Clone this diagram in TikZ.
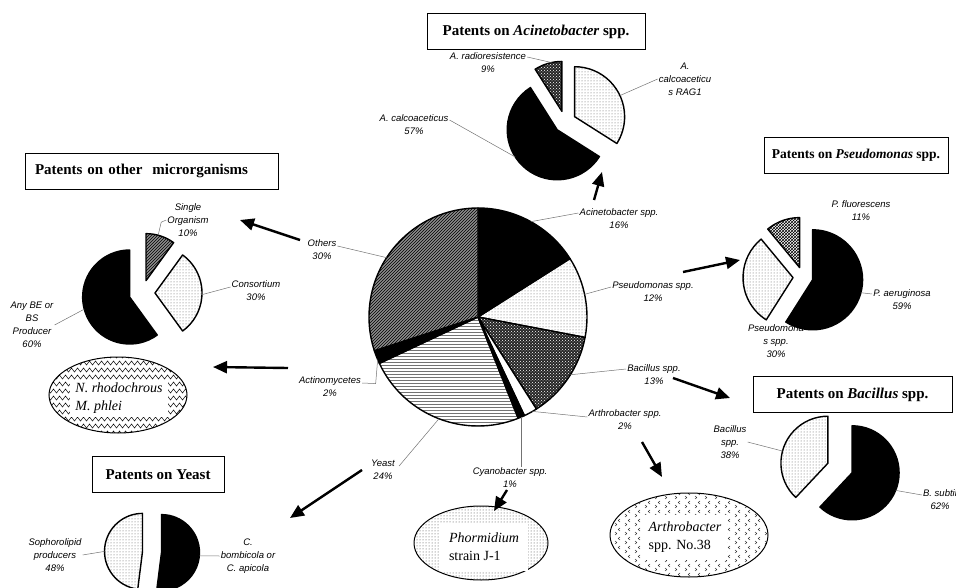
\documentclass[tikz,border=0pt]{standalone}
\usepackage{fontspec}
\setmainfont{Liberation Serif}
\setsansfont{Liberation Sans}
\usetikzlibrary{arrows.meta}
\usetikzlibrary{calc}
\usetikzlibrary{patterns}
\usetikzlibrary{decorations.pathmorphing}

% exploded pie wedge: style, centre, radius, explode, from, to
\newcommand{\pieslice}[6]{%
  \path[#1] (#2) ++({(#5+#6)/2}:#4) -- ++(#5:#3)
    arc[start angle=#5, end angle=#6, radius=#3] -- cycle;}

\tikzset{
  pie/.style={draw=black, line width=1.4pt, line join=round},
  blackpie/.style={pie, fill=black},
  dotpie/.style={pie, pattern=dots, pattern color=black!65},
  darkdotpie/.style={pie, preaction={fill=black!85}, pattern=crosshatch dots, pattern color=white},
  hatchpie/.style={pie, preaction={fill=black!45}, pattern=north east lines, pattern color=black},
  linepie/.style={pie, pattern=horizontal lines, pattern color=black!55},
  gridpie/.style={pie, pattern=crosshatch, pattern color=black},
  whitepie/.style={pie, fill=white},
  title/.style={draw, line width=0.9pt, font=\bfseries\fontsize{15}{18}\selectfont, inner sep=0pt, minimum height=36pt},
  lbl/.style={align=center, font=\sffamily\itshape\fontsize{9.5}{13}\selectfont, inner sep=1pt},
  leader/.style={draw=black!55, line width=0.5pt},
  bigarrow/.style={-{Triangle[length=14pt,width=12pt]}, line width=2.4pt},
  oval/.style={draw, line width=1pt},
  ovaltxt/.style={fill=white, align=left, font=\fontsize{14}{18}\selectfont, inner sep=0pt},
  zig/.style={decorate, decoration={zigzag, segment length=6pt, amplitude=2pt}, line width=0.5pt},
  chev/.style={line width=0.5pt, black!80},
}

\begin{document}
\begin{tikzpicture}[x=1pt, y=-1pt]
\useasboundingbox (0,0) rectangle (956,588);

% pie centres
\coordinate (main) at (478,317);
\coordinate (acin) at (565,122);
\coordinate (pseu) at (803,277);
\coordinate (other) at (142,293);
\coordinate (bac) at (840,468);
\coordinate (yeast) at (152,552);
% oval centres
\coordinate (rhodo) at (118,395);
\coordinate (phorm) at (481,543);
\coordinate (arth) at (689,535);

% titles
\node[title, minimum width=218pt] (ttlAcin) at (536,31.5) {Patents on \textit{Acinetobacter} spp.};
\node[title, minimum width=253pt, text width=233pt, align=left] (ttlOther) at (151.5,171) {Patents on other\ \ microrganisms};
\node[title, minimum width=184pt, font=\bfseries\fontsize{13.5}{16}\selectfont] (ttlPseu) at (856,155.5) {Patents on \textit{Pseudomonas} spp.};
\node[title, minimum width=199pt] (ttlBac) at (852.5,394.5) {Patents on \textit{Bacillus} spp.};
\node[title, minimum width=132pt] (ttlYeast) at (158,474.5) {Patents on Yeast};

% main pie
\pieslice{blackpie}{main}{109}{0}{-90}{-32.4}
\pieslice{dotpie}{main}{109}{0}{-32.4}{10.8}
\pieslice{darkdotpie}{main}{109}{0}{10.8}{57.6}
\pieslice{whitepie}{main}{109}{0}{57.6}{64.8}
\pieslice{blackpie}{main}{109}{0}{64.8}{68.4}
\pieslice{linepie}{main}{109}{0}{68.4}{154.8}
\pieslice{blackpie}{main}{109}{0}{154.8}{162}
\pieslice{hatchpie}{main}{109}{0}{162}{270}

\node[lbl] (lblAcin) at (619,219) {Acinetobacter spp.\\16\%};
\node[lbl] (lblPseu) at (653,292) {Pseudomonas spp.\\12\%};
\node[lbl] (lblBac) at (654,375) {Bacillus spp.\\13\%};
\node[lbl] (lblArth) at (625,420) {Arthrobacter spp.\\2\%};
\node[lbl] (lblCyan) at (510,478) {Cyanobacter spp.\\1\%};
\node[lbl] (lblYeast) at (383,470) {Yeast\\24\%};
\node[lbl] (lblActino) at (330,387) {Actinomycetes\\2\%};
\node[lbl] (lblOthers) at (322,250) {Others\\30\%};

\coordinate (cyanPt) at ($(main)+(66.6:109)$);
\draw[leader] ($(main)+(-61:109)$) -- ([yshift=6pt]lblAcin.west);
\draw[leader] ($(main)+(-12:109)$) -- ([yshift=5pt]lblPseu.west);
\draw[leader] ($(main)+(32:109)$) -- ([yshift=6pt]lblBac.west);
\draw[leader] ($(main)+(60:109)$) -- ([yshift=3pt]lblArth.west);
\draw[leader] (cyanPt) -- (cyanPt |- lblCyan.north);
\draw[leader] ($(main)+(111:109)$) -- ([xshift=3pt,yshift=4pt]lblYeast.east);
\draw[leader] ($(main)+(157:109)$) -- ++(-2,24) -- ([yshift=4pt]lblActino.east);
\draw[leader] ([yshift=4pt]lblOthers.east) -- ($(main)+(213:109)$);

% Acinetobacter
\pieslice{dotpie}{acin}{50}{11}{-90}{32.4}
\pieslice{blackpie}{acin}{50}{11}{32.4}{237.6}
\pieslice{darkdotpie}{acin}{50}{11}{237.6}{270}
\node[lbl] (lblRadio) at (488,63) {A. radioresistence\\9\%};
\node[lbl] (lblCalco) at (414,125) {A. calcoaceticus\\57\%};
\node[lbl] (lblRag) at (685,79) {A.\\calcoaceticu\\s RAG1};
\draw[leader] ([yshift=6pt]lblRadio.east) -- ($(acin)+(253.8:11)+(258:50)$);
\draw[leader] ([yshift=5pt]lblCalco.east) -- ($(acin)+(135:11)+(147:50)$);
\draw[leader] ($(acin)+(-28.8:11)+(-25:50)$) -- (lblRag.west);

% Pseudomonas
\node[lbl] (lblPspp) at (776,341) {Pseudomona\\s spp.\\30\%};
\pieslice{blackpie}{pseu}{50}{10}{-90}{122.4}
\pieslice{dotpie}{pseu}{50}{10}{122.4}{230.4}
\pieslice{gridpie}{pseu}{50}{10}{230.4}{270}
\node[lbl] (lblFluor) at (861,211) {P. fluorescens\\11\%};
\node[lbl] (lblAerug) at (902,300) {P. aeruginosa\\59\%};
\draw[leader] ($(pseu)+(16.2:10)+(15:50)$) -- ([yshift=6pt]lblAerug.west);

% other microorganisms
\pieslice{hatchpie}{other}{47}{13}{-90}{-54}
\pieslice{dotpie}{other}{47}{13}{-54}{54}
\pieslice{blackpie}{other}{47}{13}{54}{270}
\node[lbl] (lblSingle) at (188,220) {Single\\Organism\\10\%};
\node[lbl] (lblConsort) at (256,291) {Consortium\\30\%};
\node[lbl] (lblAnyBE) at (32,325) {Any BE or\\BS\\Producer\\60\%};
\draw[leader] ($(other)+(-72:13)+(-75:47)$) -- ++(3,-13) -- (lblSingle.west);
\draw[leader] ($(other)+(0:13)+(2:47)$) -- ([yshift=4pt]lblConsort.west);
\draw[leader] (lblAnyBE.east) -- ($(other)+(162:13)+(165:47)$);

% Bacillus
\pieslice{blackpie}{bac}{47}{13}{-90}{133.2}
\pieslice{dotpie}{bac}{47}{13}{133.2}{270}
\node[lbl] (lblBspp) at (730,442) {Bacillus\\spp.\\38\%};
\node[lbl] (lblSubtil) at (940,500) {B. subtil\\62\%};
\draw[leader] (lblBspp.east) -- ($(bac)+(201.6:13)+(195:47)$);
\draw[leader] ($(bac)+(21.6:13)+(22:47)$) -- ([yshift=5pt]lblSubtil.west);

% Yeast
\pieslice{blackpie}{yeast}{38}{9.5}{-90}{97.2}
\pieslice{dotpie}{yeast}{38}{9.5}{97.2}{270}
\node[lbl] (lblSopho) at (55,555) {Sophorolipid\\producers\\48\%};
\node[lbl] (lblBombi) at (248,556) {C.\\bombicola or\\C. apicola};
\draw[leader] (lblSopho.east) -- ($(yeast)+(183.6:9.5)+(180:38)$);
\draw[leader] ($(yeast)+(3.6:9.5)+(5:38)$) -- (lblBombi.west);

% ovals
\begin{scope}
  \clip (rhodo) ellipse [x radius=69, y radius=38];
  \foreach \zy in {356,363,...,434}
    \draw[zig] (46,\zy) -- (190,\zy);
\end{scope}
\draw[oval] (rhodo) ellipse [x radius=69, y radius=38];
\node[ovaltxt, minimum width=98pt, minimum height=37pt] (txtRhodo) at (119,398) {\textit{N. rhodochrous}\\\textit{M. phlei}};

\fill[pattern=dots, pattern color=black!75] (phorm) ellipse [x radius=67, y radius=37];
\draw[oval] (phorm) ellipse [x radius=67, y radius=37];
\node[ovaltxt, minimum width=88pt, minimum height=48pt] (txtPhorm) at (484,547) {\textit{Phormidium}\\strain J-1};

\begin{scope}
  \clip (arth) ellipse [x radius=79, y radius=42];
  \foreach \cx in {610,620,...,770}
    \foreach \cy in {492,501,...,578}
      \draw[chev] (\cx,\cy) -- ++(-1.8,1.5) -- ++(1.8,1.5);
  \foreach \cx in {615,625,...,770}
    \foreach \cy in {496,505,...,578}
      \draw[chev] (\cx,\cy) -- ++(1.8,1.5) -- ++(-1.8,1.5);
\end{scope}
\draw[oval] (arth) ellipse [x radius=79, y radius=42];
\node[ovaltxt, minimum width=84pt, minimum height=45pt] (txtArth) at (685,537) {\textit{Arthrobacter}\\spp. No.38};

% arrows
\coordinate (acinFrom) at (594,200);
\coordinate (acinTo) at (602,172);
\coordinate (pseuFrom) at (683,272);
\coordinate (pseuTo) at (740,260);
\coordinate (bacFrom) at (673,378);
\coordinate (bacTo) at (730,398);
\coordinate (arthFrom) at (642,442);
\coordinate (arthTo) at (662,477);
\coordinate (cyanFrom) at (507,490);
\coordinate (cyanTo) at (494,511);
\coordinate (yeastFrom) at (362,470);
\coordinate (yeastTo) at (290,518);
\coordinate (actinoFrom) at (288,368);
\coordinate (actinoTo) at (213,367);
\coordinate (othersFrom) at (300,240);
\coordinate (othersTo) at (240,220);

\draw[bigarrow] (acinFrom) -- (acinTo);
\draw[bigarrow] (pseuFrom) -- (pseuTo);
\draw[bigarrow] (bacFrom) -- (bacTo);
\draw[bigarrow] (arthFrom) -- (arthTo);
\draw[bigarrow] (cyanFrom) -- (cyanTo);
\draw[bigarrow] (yeastFrom) -- (yeastTo);
\draw[bigarrow] (actinoFrom) -- (actinoTo);
\draw[bigarrow] (othersFrom) -- (othersTo);
\end{tikzpicture}
\end{document}
